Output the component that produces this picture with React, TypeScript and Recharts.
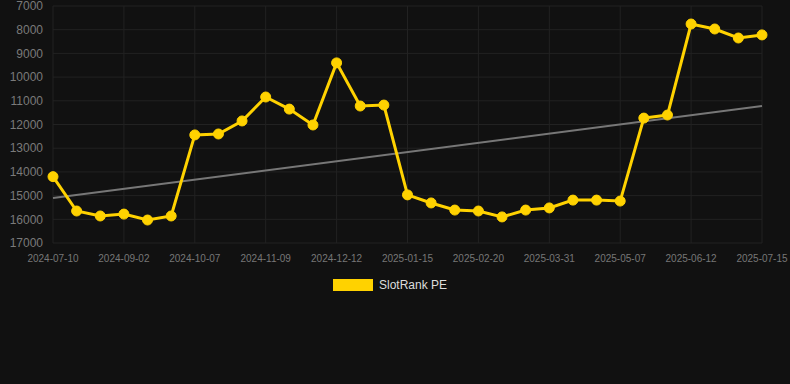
import { LineChart, Line, XAxis, YAxis, CartesianGrid } from "recharts"

const dates = [
  "2024-07-10", "2024-07-28", "2024-08-15", "2024-09-02", "2024-09-14", "2024-09-26",
  "2024-10-07", "2024-10-18", "2024-10-29", "2024-11-09", "2024-11-20", "2024-12-01",
  "2024-12-12", "2024-12-23", "2025-01-04", "2025-01-15", "2025-01-27", "2025-02-08",
  "2025-02-20", "2025-03-05", "2025-03-18", "2025-03-31", "2025-04-12", "2025-04-24",
  "2025-05-07", "2025-05-19", "2025-05-31", "2025-06-12", "2025-06-23", "2025-07-04",
  "2025-07-15",
]

const rankValues = [
  14200, 15650, 15860, 15780, 16030, 15860,
  12440, 12400, 11850, 10840, 11350, 12020,
  9400, 11220, 11180, 14970, 15310, 15610,
  15650, 15900, 15610, 15520, 15190, 15190,
  15230, 11730, 11600, 7760, 7970, 8350,
  8220,
]

// trend line: only the two ends are known, the rest is connected
const trendStart = 15100
const trendEnd = 11220

const yTicks = [7000, 8000, 9000, 10000, 11000, 12000, 13000, 14000, 15000, 16000, 17000]

const data = dates.map((date, i) => ({
  date,
  rank: rankValues[i],
  trend: i === 0 ? trendStart : i === dates.length - 1 ? trendEnd : null,
}))

const YELLOW = "#FFD200"
const FONT = "'Liberation Sans', Arial, sans-serif"

export default function App() {
  return (
    <div
      style={{
        position: "fixed",
        left: 0,
        top: 0,
        width: 790,
        height: 384,
        background: "#111111",
        fontFamily: FONT,
      }}
    >
      <LineChart
        width={790}
        height={384}
        data={data}
        margin={{ top: 6, right: 28, left: 0, bottom: 111 }}
      >
        <CartesianGrid stroke="#222222" strokeWidth={1} />
        <XAxis
          dataKey="date"
          interval={2}
          axisLine={false}
          tickLine={false}
          tickSize={6}
          tickMargin={6}
          height={30}
          tick={{ fill: "#777777", fontSize: 10, fontFamily: FONT }}
        />
        <YAxis
          reversed
          domain={[7000, 17000]}
          ticks={yTicks}
          interval={0}
          width={53}
          axisLine={false}
          tickLine={false}
          tickSize={6}
          tickMargin={4}
          tick={{ fill: "#7a7a7a", fontSize: 12, fontFamily: FONT }}
        />
        <Line
          dataKey="trend"
          stroke="#777777"
          strokeWidth={2}
          dot={false}
          connectNulls
          isAnimationActive={false}
        />
        <Line
          type="linear"
          dataKey="rank"
          stroke={YELLOW}
          strokeWidth={3}
          dot={{ r: 5, fill: YELLOW, stroke: YELLOW, strokeWidth: 1 }}
          activeDot={false}
          isAnimationActive={false}
        />
      </LineChart>
      <div
        style={{
          position: "absolute",
          left: 333,
          top: 278,
          display: "flex",
          alignItems: "center",
          fontSize: 12,
          color: "#dddddd",
        }}
      >
        <span style={{ width: 40, height: 12, background: YELLOW, display: "inline-block", marginRight: 6 }} />
        <span>SlotRank PE</span>
      </div>
    </div>
  )
}
